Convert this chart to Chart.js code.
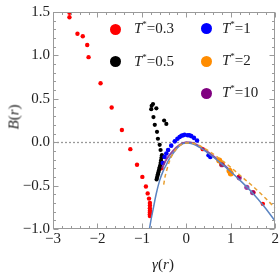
<!DOCTYPE html>
<html>
<head>
<meta charset="utf-8">
<script src="https://cdn.jsdelivr.net/npm/chart.js@4"></script>
<style>
html,body{margin:0;padding:0;background:#fff;}
#wrap{position:relative;width:280px;height:273px;overflow:hidden;font-family:"Liberation Serif","DejaVu Serif",serif;color:#222;}
canvas{position:absolute;left:0;top:0;}
.lg{position:absolute;font-size:15px;line-height:15px;white-space:nowrap;}
.lg i{font-style:italic;}
.lg sup{font-size:9px;vertical-align:6px;line-height:0;}
.dot{position:absolute;width:11px;height:11px;border-radius:50%;}
.ttl{position:absolute;font-size:15px;line-height:15px;white-space:nowrap;}
</style>
</head>
<body>
<div id="wrap">
<canvas id="c" width="280" height="273"></canvas>
<div class="dot" style="left:109.5px;top:23.5px;background:#ff0000"></div>
<div class="lg" style="left:134px;top:21px"><i>T</i><sup>*</sup>=0.3</div>
<div class="dot" style="left:109.5px;top:56px;background:#000000"></div>
<div class="lg" style="left:134px;top:54px"><i>T</i><sup>*</sup>=0.5</div>
<div class="dot" style="left:201px;top:23px;background:#0000ff"></div>
<div class="lg" style="left:222px;top:21px"><i>T</i><sup>*</sup>=1</div>
<div class="dot" style="left:201px;top:55.5px;background:#ff8c00"></div>
<div class="lg" style="left:222px;top:53px"><i>T</i><sup>*</sup>=2</div>
<div class="dot" style="left:201px;top:87.5px;background:#800080"></div>
<div class="lg" style="left:222px;top:85px"><i>T</i><sup>*</sup>=10</div>
<div class="ttl" style="left:14px;top:117px;transform:translate(-50%,-50%) rotate(-90deg);"><i>B</i>(<i>r</i>)</div>
<div class="ttl" style="left:163px;top:264px;transform:translate(-50%,-50%);"><i>γ</i>(<i>r</i>)</div>
</div>
<script>
// ---- data ----
const xTicks = [-3, -2, -1, 0, 1, 2];
const xTickLabels = ['\u22123', '\u22122', '\u22121', '0', '1', '2'];
const yTicks = [-1.0, -0.5, 0.0, 0.5, 1.0, 1.5];
const yTickLabels = ['\u22121.0', '\u22120.5', '0.0', '0.5', '1.0', '1.5'];

const redX = [-2.63,-2.63,-2.45,-2.33,-2.23,-2.20,-1.93,-1.68,-1.45,-1.26,-1.11,-0.99,-0.91,-0.87,-0.84,-0.82,-0.82,-0.82,-0.82,-0.82,-0.82,-0.82,-0.56,0.37,1.18,1.51,1.72];
const redY = [1.49,1.44,1.25,1.22,1.12,0.98,0.68,0.40,0.14,-0.08,-0.26,-0.40,-0.51,-0.59,-0.65,-0.70,-0.73,-0.76,-0.79,-0.81,-0.83,-0.85,-0.30,-0.08,-0.40,-0.58,-0.71];

const blackX = [-0.75,-0.78,-0.79,-0.675,-0.74,-0.50,-0.45,-0.71,-0.66,-0.64,-0.60,-0.58,-0.55,-0.56,-0.57,-0.58,-0.59,-0.60,-0.61,-0.62,-0.63,-0.64,-0.65,-0.66,-0.67];
const blackY = [0.44,0.42,0.38,0.39,0.29,0.25,0.21,0.20,0.12,0.04,-0.03,-0.09,-0.15,-0.18,-0.21,-0.24,-0.27,-0.29,-0.31,-0.33,-0.35,-0.37,-0.39,-0.41,-0.43];

const blueX = [-0.53,-0.49,-0.45,-0.41,-0.34,-0.26,-0.20,-0.15,-0.11,-0.07,-0.04,0.03,0.07,0.11,0.17,0.24,0.50,0.54];
const blueY = [-0.24,-0.17,-0.13,-0.09,-0.04,0.01,0.04,0.06,0.075,0.08,0.086,0.08,0.08,0.07,0.05,0.02,-0.15,-0.17];

const orangeX = [0.74,0.80,0.97,1.00];
const orangeY = [-0.21,-0.25,-0.33,-0.36];

const purpleX = [0.80,1.19,1.36,1.49];
const purpleY = [-0.26,-0.41,-0.52,-0.58];

// theory curves
const curveBlueX = [-0.83,-0.79,-0.75,-0.68,-0.60,-0.52,-0.45,-0.38,-0.30,-0.15,0.0,0.15,0.30,0.50,0.75,1.00,1.25,1.50,1.75,2.00];
const curveBlueY = [-1.0,-0.88,-0.78,-0.60,-0.44,-0.33,-0.26,-0.19,-0.13,-0.04,-0.01,-0.02,-0.06,-0.13,-0.23,-0.34,-0.46,-0.59,-0.74,-0.91];

const curveOrangeX = [-0.51,-0.48,-0.44,-0.38,-0.30,-0.15,0.0,0.20,0.50,0.75,1.00,1.25,1.50,1.75,2.00];
const curveOrangeY = [-0.49,-0.40,-0.32,-0.22,-0.13,-0.04,-0.01,-0.02,-0.10,-0.19,-0.29,-0.40,-0.51,-0.63,-0.76];

const curvePurpleX = [-0.55,-0.45,-0.30,-0.15,0.0,0.15,0.30,0.50,0.75,1.00];
const curvePurpleY = [-0.30,-0.20,-0.10,-0.03,0.0,-0.01,-0.05,-0.12,-0.22,-0.33];

const pts = (xs, ys) => xs.map((x, i) => ({x: x, y: ys[i]}));

// ---- frame, inward ticks, zero line ----
const framePlugin = {
  id: 'frame',
  beforeDatasetsDraw(chart) {
    const {ctx, chartArea: a, scales: {x, y}} = chart;
    ctx.save();
    ctx.strokeStyle = '#999';
    ctx.lineWidth = 1.3;
    ctx.setLineDash([2, 2]);
    const y0 = Math.round(y.getPixelForValue(0)) + 0.5;
    ctx.beginPath(); ctx.moveTo(a.left, y0); ctx.lineTo(a.right, y0); ctx.stroke();
    ctx.restore();
  },
  afterDatasetsDraw(chart) {
    const {ctx, chartArea: a, scales: {x, y}} = chart;
    ctx.save();
    ctx.strokeStyle = '#9a9a9a';
    ctx.lineWidth = 1;
    const L = Math.round(a.left) + 0.5, R = Math.round(a.right) - 0.5;
    const T = Math.round(a.top) + 0.5, B = Math.round(a.bottom) - 0.5;
    ctx.strokeRect(L, T, R - L, B - T);
    ctx.beginPath();
    for (let i = -15; i <= 10; i++) {
      const v = i / 5;
      const px = Math.round(x.getPixelForValue(v)) + 0.5;
      const len = (i % 5 === 0) ? 5 : 2.5;
      ctx.moveTo(px, B); ctx.lineTo(px, B - len);
      ctx.moveTo(px, T); ctx.lineTo(px, T + len);
    }
    for (let i = -10; i <= 15; i++) {
      const v = i / 10;
      const py = Math.round(y.getPixelForValue(v)) + 0.5;
      const len = (i % 5 === 0) ? 5 : 2.5;
      ctx.moveTo(L, py); ctx.lineTo(L + len, py);
      ctx.moveTo(R, py); ctx.lineTo(R - len, py);
    }
    ctx.stroke();
    ctx.restore();
  }
};

const tickFont = {family: "'Liberation Serif', 'DejaVu Serif', serif", size: 15};

new Chart(document.getElementById('c'), {
  type: 'scatter',
  data: {
    datasets: [
      {label: 'curve T*=10', data: pts(curvePurpleX, curvePurpleY), showLine: true, borderColor: 'rgba(128,40,140,0.85)', borderWidth: 2, pointRadius: 0, cubicInterpolationMode: 'monotone', order: 6},
      {label: 'curve T*=2', data: pts(curveOrangeX, curveOrangeY), showLine: true, borderColor: '#e8a033', borderWidth: 1.5, borderDash: [4, 3], pointRadius: 0, cubicInterpolationMode: 'monotone', order: 2},
      {label: 'curve', data: pts(curveBlueX, curveBlueY), showLine: true, borderColor: '#5b84c2', borderWidth: 1.5, pointRadius: 0, cubicInterpolationMode: 'monotone', order: 3},
      {label: 'T*=0.3', data: pts(redX, redY), backgroundColor: '#ff0000', borderWidth: 0, pointRadius: 2.2, order: 9},
      {label: 'T*=0.5', data: pts(blackX, blackY), backgroundColor: '#000000', borderWidth: 0, pointRadius: 2.1, order: 8},
      {label: 'T*=1', data: pts(blueX, blueY), backgroundColor: '#0000ff', borderWidth: 0, pointRadius: 2.3, order: 7},
      {label: 'T*=2', data: pts(orangeX, orangeY), backgroundColor: '#ff8c00', borderWidth: 0, pointRadius: 3, order: 5},
      {label: 'T*=10', data: pts(purpleX, purpleY), backgroundColor: 'rgba(128,0,128,0.75)', borderWidth: 0, pointRadius: 2.6, order: 4}
    ]
  },
  options: {
    responsive: false,
    animation: false,
    devicePixelRatio: 1,
    layout: {padding: {left: 0, right: 4, top: 6, bottom: 0}, autoPadding: false},
    plugins: {legend: {display: false}, tooltip: {enabled: false}},
    scales: {
      x: {
        type: 'linear', min: -3, max: 2,
        afterBuildTicks: s => { s.ticks = xTicks.map(v => ({value: v})); },
        afterFit: s => { s.height = 44; },
        ticks: {font: tickFont, color: '#222', padding: 1, maxRotation: 0, autoSkip: false,
          callback: v => xTickLabels[xTicks.indexOf(v)]},
        grid: {display: false, drawTicks: false},
        border: {display: false}
      },
      y: {
        type: 'linear', min: -1, max: 1.5,
        afterBuildTicks: s => { s.ticks = yTicks.map(v => ({value: v})); },
        afterFit: s => { s.width = 53; },
        ticks: {font: tickFont, color: '#222', padding: 3, autoSkip: false,
          callback: v => yTickLabels[yTicks.indexOf(v)]},
        grid: {display: false, drawTicks: false},
        border: {display: false}
      }
    }
  },
  plugins: [framePlugin]
});
</script>
</body>
</html>
